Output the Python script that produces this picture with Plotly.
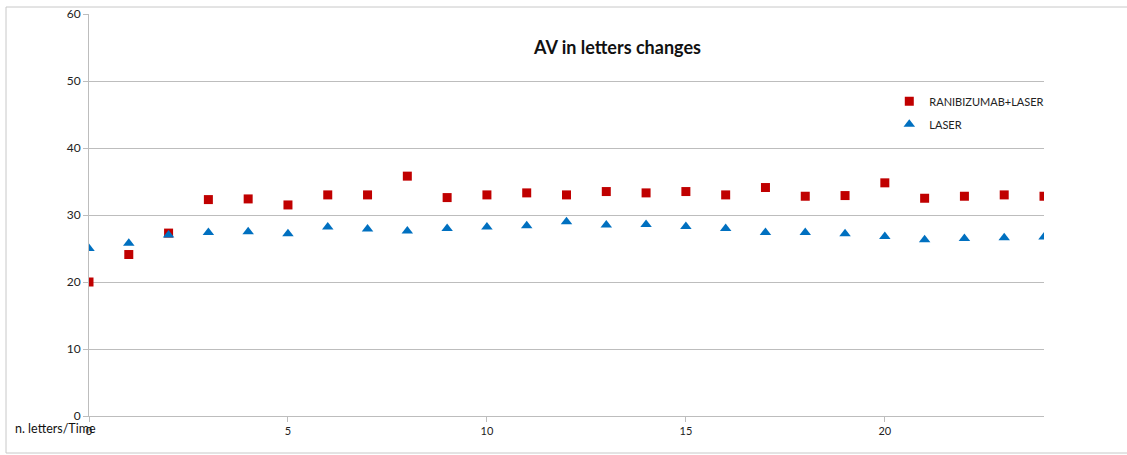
import plotly.graph_objects as go

time_points = list(range(25))
ranibizumab_laser = [20.0, 24.1, 27.3, 32.3, 32.4, 31.5, 33.0, 33.0, 35.8, 32.6,
                     33.0, 33.3, 33.0, 33.5, 33.3, 33.5, 33.0, 34.1, 32.8, 32.9,
                     34.8, 32.5, 32.8, 33.0, 32.8]
laser = [25.0, 25.8, 27.0, 27.4, 27.5, 27.2, 28.2, 27.9, 27.6, 28.0,
         28.2, 28.4, 29.0, 28.5, 28.6, 28.3, 28.0, 27.4, 27.4, 27.2,
         26.8, 26.3, 26.5, 26.6, 26.7]
y_ticks = [0, 10, 20, 30, 40, 50, 60]
x_ticks = [0, 5, 10, 15, 20]

FONT = "Lato, 'Open Sans', sans-serif"
GRID = "#BDBDBD"

fig = go.Figure()
fig.add_trace(go.Scatter(
    x=time_points, y=ranibizumab_laser, mode="markers", name="RANIBIZUMAB+LASER",
    legendgroup="g1",
    marker=dict(symbol="square", size=9, color="#C00000"),
))
fig.add_trace(go.Scatter(
    x=time_points, y=laser, mode="markers", name="LASER",
    legendgroup="g2",
    marker=dict(symbol="triangle-up", size=10, color="#0070C0"),
))

fig.update_layout(
    width=1127, height=455,
    margin=dict(l=89, r=83, t=14, b=39, autoexpand=False),
    paper_bgcolor="white", plot_bgcolor="white",
    font=dict(family=FONT, size=11, color="#222222"),
    showlegend=True,
    legend=dict(x=0.838, y=0.819, xanchor="left", yanchor="top",
                font=dict(size=11, color="#222222"), bgcolor="rgba(0,0,0,0)",
                itemsizing="trace", tracegroupgap=4),
    xaxis=dict(range=[0, 24], tickvals=x_ticks, showgrid=False, zeroline=False,
               showline=True, linecolor=GRID, linewidth=1, automargin=False,
               ticks="outside", ticklen=5, tickcolor=GRID,
               tickfont=dict(size=11, color="#222222")),
    yaxis=dict(range=[0, 60], tickvals=y_ticks, showgrid=True, gridcolor=GRID,
               gridwidth=1, zeroline=False, showline=True, linecolor=GRID,
               linewidth=1, ticks="outside", ticklen=5, tickcolor=GRID,
               automargin=False, tickfont=dict(size=12, color="#222222")),
    annotations=[
        dict(text="<b>AV in letters changes</b>", xref="paper", yref="paper",
             x=0.553, y=0.917, xanchor="center", yanchor="middle",
             showarrow=False, font=dict(size=18, color="#111111", family=FONT)),
        dict(text="n. letters/Time", xref="paper", yref="paper",
             x=(13 - 89) / 955, y=-0.03, xanchor="left", yanchor="middle",
             showarrow=False, font=dict(size=12.5, color="#111111", family=FONT)),
    ],
    shapes=[
        dict(type="rect", xref="paper", yref="paper",
             x0=(6 - 89) / 955, x1=(1130 - 89) / 955,
             y0=(416 - 453) / 402, y1=(416 - 7) / 402,
             line=dict(color="#C8C8C8", width=1), layer="below"),
    ],
)

fig.write_html(
    "out.html",
    config={"displayModeBar": False},
    post_script="document.body.style.margin='0';document.body.style.padding='0';document.body.style.overflow='hidden';",
)
